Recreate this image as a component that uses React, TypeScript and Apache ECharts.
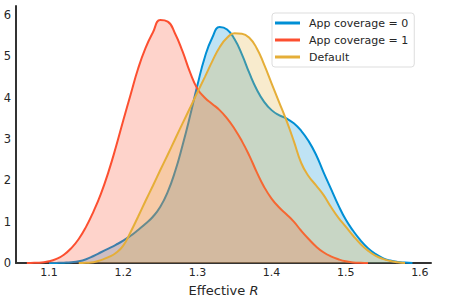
import React, { useEffect, useRef } from "react";
import * as echarts from "echarts";

const seriesNames = ["App coverage = 0", "App coverage = 1", "Default"];
const colors = ["#008fd5", "#fc4f30", "#e5ae38"];

const blueX = [1.10,1.11,1.12,1.13,1.14,1.15,1.16,1.17,1.18,1.19,1.20,1.21,1.22,1.23,1.24,1.25,1.26,1.27,1.28,1.29,1.30,1.31,1.32,1.33,1.34,1.35,1.36,1.37,1.38,1.39,1.40,1.41,1.42,1.43,1.44,1.45,1.46,1.47,1.48,1.49,1.50,1.51,1.52,1.53,1.54,1.55,1.56,1.57,1.58,1.59];
const blueY = [0,0.003,0.008,0.018,0.04,0.09,0.17,0.26,0.35,0.44,0.54,0.66,0.8,0.95,1.12,1.36,1.72,2.22,2.85,3.55,4.3,4.98,5.45,5.71,5.65,5.42,5.05,4.6,4.2,3.9,3.7,3.58,3.5,3.38,3.2,2.95,2.62,2.2,1.8,1.4,1.05,0.78,0.55,0.36,0.22,0.12,0.06,0.025,0.01,0];

const redX = [1.07,1.08,1.09,1.10,1.11,1.12,1.13,1.14,1.15,1.16,1.17,1.18,1.19,1.20,1.21,1.22,1.23,1.24,1.25,1.26,1.27,1.28,1.29,1.30,1.31,1.32,1.33,1.34,1.35,1.36,1.37,1.38,1.39,1.40,1.41,1.42,1.43,1.44,1.45,1.46,1.47,1.48,1.49,1.50,1.51,1.52,1.53];
const redY = [0,0.005,0.015,0.04,0.1,0.2,0.36,0.58,0.88,1.25,1.68,2.2,2.8,3.45,4.08,4.7,5.2,5.58,5.88,5.84,5.55,5.12,4.62,4.22,4.0,3.85,3.7,3.5,3.25,2.95,2.6,2.2,1.84,1.56,1.35,1.18,1.0,0.78,0.58,0.4,0.26,0.16,0.09,0.04,0.015,0.005,0];

const orangeX = [1.14,1.15,1.16,1.17,1.18,1.19,1.20,1.21,1.22,1.23,1.24,1.25,1.26,1.27,1.28,1.29,1.30,1.31,1.32,1.33,1.34,1.35,1.36,1.37,1.38,1.39,1.40,1.41,1.42,1.43,1.44,1.45,1.46,1.47,1.48,1.49,1.50,1.51,1.52,1.53,1.54,1.55,1.56,1.57,1.58];
const orangeY = [0,0.005,0.02,0.07,0.14,0.24,0.42,0.75,1.12,1.5,1.87,2.25,2.62,3.0,3.38,3.75,4.13,4.5,4.88,5.22,5.45,5.56,5.55,5.45,5.2,4.8,4.35,3.9,3.45,2.95,2.42,2.1,1.88,1.65,1.36,1.1,0.88,0.66,0.46,0.3,0.18,0.1,0.05,0.02,0];

const xTicks = [1.1, 1.2, 1.3, 1.4, 1.5, 1.6];
const yTicks = [0, 1, 2, 3, 4, 5, 6];

const xs = [blueX, redX, orangeX];
const ys = [blueY, redY, orangeY];

export default function App() {
  const ref = useRef<HTMLDivElement>(null);
  useEffect(() => {
    if (!ref.current) return;
    const chart = echarts.init(ref.current, null, { renderer: "svg" });
    const font = "DejaVu Sans";
    chart.setOption({
      animation: false,
      backgroundColor: "#ffffff",
      textStyle: { fontFamily: font },
      grid: { left: 16, right: 18, top: 6, bottom: 42 },
      legend: {
        orient: "vertical",
        left: 272,
        top: 13,
        data: seriesNames,
        icon: "rect",
        itemWidth: 25,
        itemHeight: 3,
        itemGap: 3,
        padding: [3, 6, 3, 3],
        borderColor: "#dddddd",
        borderWidth: 1,
        borderRadius: 3,
        backgroundColor: "rgba(255,255,255,0.8)",
        textStyle: { fontFamily: font, fontSize: 11, color: "#262626", lineHeight: 14, padding: [0, 0, 0, 4] },
      },
      xAxis: {
        type: "value",
        min: 1.0554,
        max: 1.615,
        name: "Effective {i|R}",
        nameLocation: "middle",
        nameGap: 21,
        nameTextStyle: {
          fontFamily: font,
          fontSize: 13,
          color: "#262626",
          rich: { i: { fontStyle: "italic", fontFamily: font, fontSize: 13, color: "#262626" } },
        },
        axisLine: { show: true, lineStyle: { color: "#333333", width: 2 } },
        axisTick: { show: false },
        splitLine: { show: false },
        axisLabel: {
          customValues: xTicks,
          formatter: (v: number) => v.toFixed(1),
          fontFamily: font,
          fontSize: 11,
          color: "#262626",
          margin: 4,
        },
      },
      yAxis: {
        type: "value",
        min: 0,
        max: 6.22,
        axisLine: { show: true, lineStyle: { color: "#333333", width: 2 } },
        axisTick: { show: false },
        splitLine: { show: false },
        axisLabel: {
          customValues: yTicks,
          formatter: (v: number) => String(Math.round(v)),
          fontFamily: font,
          fontSize: 11.5,
          color: "#262626",
          margin: 5,
        },
      },
      series: seriesNames.map((name, i) => ({
        name,
        type: "line",
        smooth: 0.5,
        showSymbol: false,
        symbol: "none",
        data: xs[i].map((x, j) => [x, ys[i][j]]),
        lineStyle: { color: colors[i], width: 2 },
        itemStyle: { color: colors[i] },
        areaStyle: { color: colors[i], opacity: 0.25 },
        z: 2 + i,
      })),
    });
    return () => chart.dispose();
  }, []);
  return (
    <div
      ref={ref}
      style={{ position: "fixed", left: 0, top: 0, width: 449, height: 305 }}
    />
  );
}
